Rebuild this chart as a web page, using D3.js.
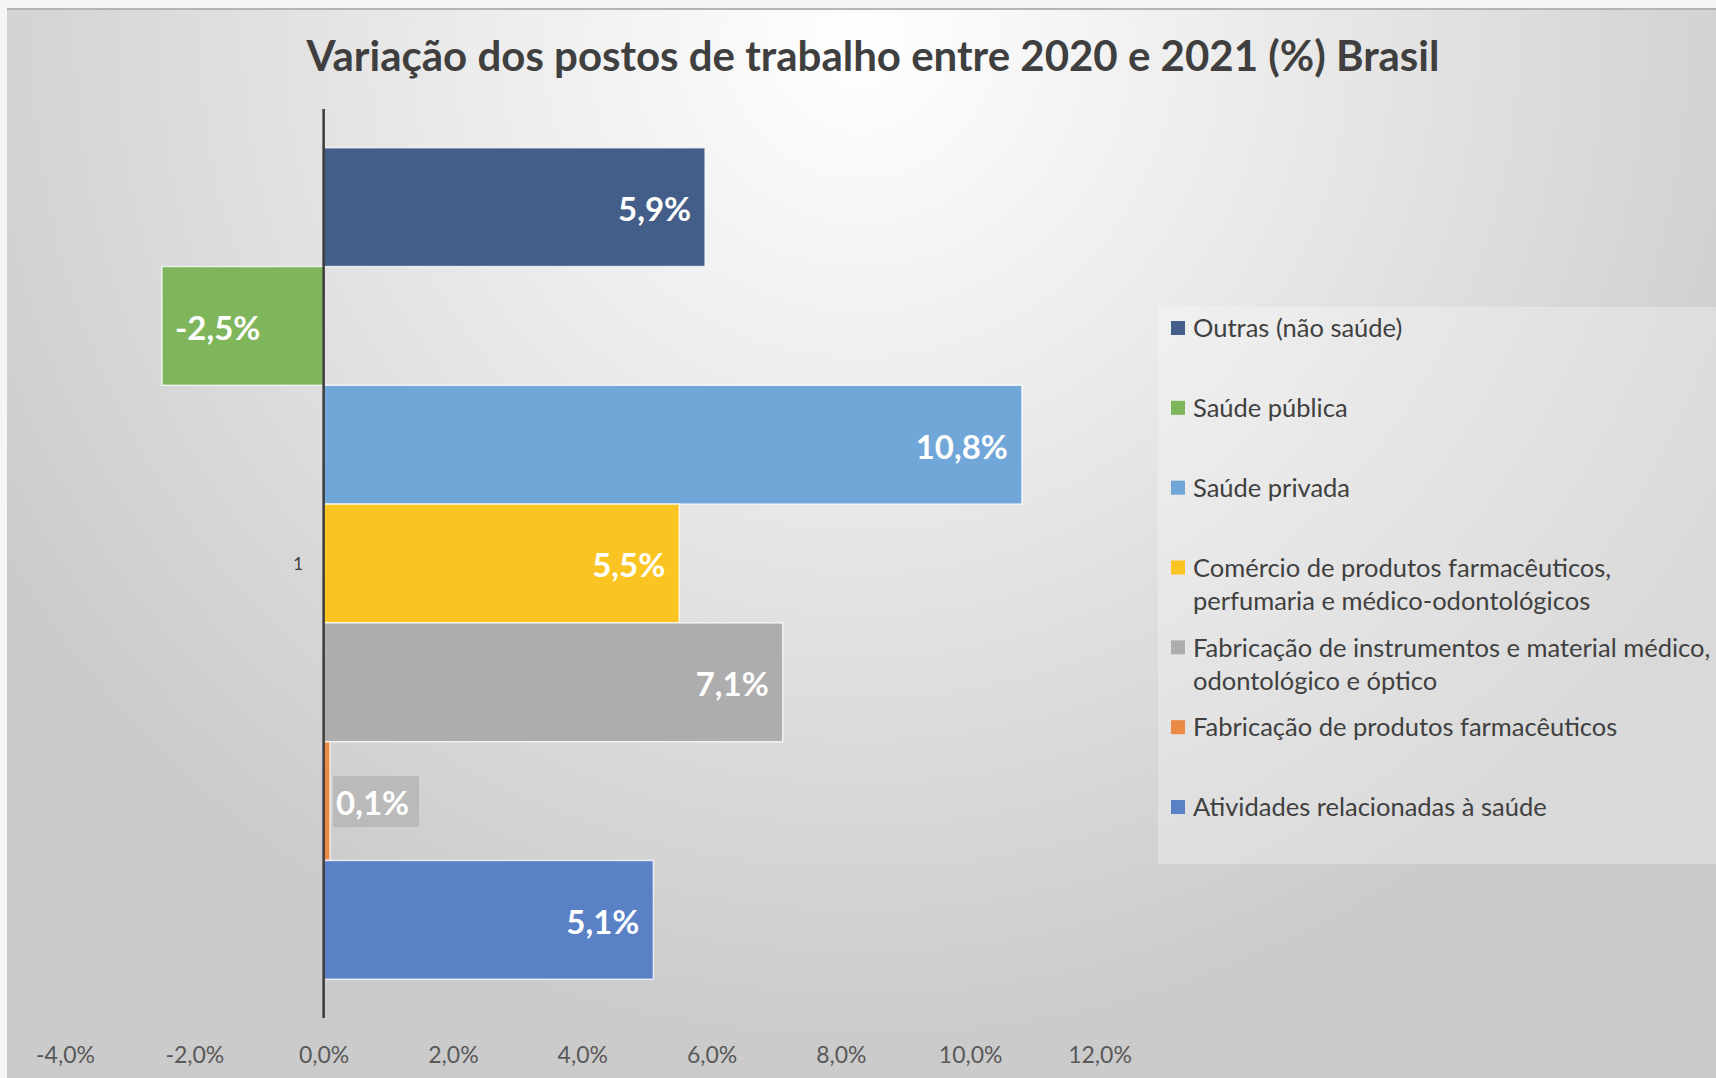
<!DOCTYPE html>
<html>
<head>
<meta charset="utf-8">
<script src="https://cdn.jsdelivr.net/npm/d3@7"></script>
<style>
  body { margin: 0; background: #f5f5f5; }
  svg { display: block; font-family: Lato, "Open Sans", sans-serif; }
</style>
</head>
<body>
<svg width="1716" height="1078"></svg>
<script>
const categories = ["1"];
const series = [
  "Outras (não saúde)",
  "Saúde pública",
  "Saúde privada",
  "Comércio de produtos farmacêuticos, perfumaria e médico-odontológicos",
  "Fabricação de instrumentos e material médico, odontológico e óptico",
  "Fabricação de produtos farmacêuticos",
  "Atividades relacionadas à saúde"
];
const values = [5.9, -2.5, 10.8, 5.5, 7.1, 0.1, 5.1];
const colors = ["#435e88", "#7fb65b", "#71a6d8", "#fac522", "#adadad", "#eb8a44", "#5a80c6"];
const xTicks = [-4, -2, 0, 2, 4, 6, 8, 10, 12];
const title = "Variação dos postos de trabalho entre 2020 e 2021 (%) Brasil";

const svg = d3.select("svg");
const width = +svg.attr("width");
const height = +svg.attr("height");

const fmt = v => d3.format(".1f")(v).replace("−", "-").replace(".", ",") + "%";

// background
const defs = svg.append("defs");
const grad = defs.append("radialGradient")
  .attr("id", "bg")
  .attr("gradientUnits", "userSpaceOnUse")
  .attr("cx", 860).attr("cy", 40).attr("r", 1000);
grad.append("stop").attr("offset", "0%").attr("stop-color", "#ffffff");
grad.append("stop").attr("offset", "40%").attr("stop-color", "#ebebeb");
grad.append("stop").attr("offset", "100%").attr("stop-color", "#cbcbcb");

svg.append("rect")
  .attr("x", 7).attr("y", 8)
  .attr("width", width - 7).attr("height", height - 8)
  .attr("fill", "url(#bg)");
svg.append("line")
  .attr("x1", 7).attr("x2", width)
  .attr("y1", 9).attr("y2", 9)
  .attr("stroke", "#b4b4b4").attr("stroke-width", 2);

svg.append("text")
  .attr("x", 873).attr("y", 71)
  .attr("text-anchor", "middle")
  .attr("font-size", 42)
  .attr("font-weight", 700)
  .attr("fill", "#3f3f3f")
  .text(title);

// scales
const x = d3.scaleLinear().domain([-4, 12]).range([65, 1099.5]);
const yCat = d3.scaleBand().domain(categories).range([109, 1018]);
const y = d3.scaleBand()
  .domain(series)
  .range([0, yCat.bandwidth()])
  .paddingInner(0)
  .paddingOuter(0.326);

const data = series.map((s, i) => ({ name: s, value: values[i], color: colors[i] }));

const plot = svg.append("g");

const catG = plot.selectAll("g.cat")
  .data(categories)
  .join("g")
  .attr("class", "cat")
  .attr("transform", d => `translate(0, ${yCat(d)})`);

catG.selectAll("rect.bar")
  .data(data)
  .join("rect")
  .attr("class", "bar")
  .attr("x", d => x(Math.min(0, d.value)))
  .attr("width", d => Math.abs(x(d.value) - x(0)))
  .attr("y", d => y(d.name))
  .attr("height", y.bandwidth())
  .attr("fill", d => d.color)
  .attr("stroke", "#ffffff")
  .attr("stroke-opacity", 0.75)
  .attr("stroke-width", 1.5);

// labels
const labelG = catG.selectAll("g.lbl")
  .data(data)
  .join("g")
  .attr("class", "lbl")
  .attr("transform", d => `translate(0, ${y(d.name) + y.bandwidth() / 2})`);

labelG.each(function(d) {
  const g = d3.select(this);
  const small = Math.abs(x(d.value) - x(0)) < 90;
  let tx, anchor;
  if (small) {
    g.append("rect")
      .attr("x", x(d.value) + 3)
      .attr("y", -25)
      .attr("width", 86)
      .attr("height", 51)
      .attr("fill", "#bababa");
    tx = x(d.value) + 6; anchor = "start";
  } else if (d.value < 0) {
    tx = x(d.value) + 13; anchor = "start";
  } else {
    tx = x(d.value) - 14; anchor = "end";
  }
  g.append("text")
    .attr("x", tx)
    .attr("y", 2)
    .attr("dy", "0.36em")
    .attr("text-anchor", anchor)
    .attr("font-size", 33)
    .attr("font-weight", 700)
    .attr("fill", "#ffffff")
    .text(fmt(d.value));
});

// category label
catG.append("text")
  .attr("x", 303)
  .attr("y", yCat.bandwidth() / 2)
  .attr("dy", "0.36em")
  .attr("text-anchor", "end")
  .attr("font-size", 17)
  .attr("fill", "#404040")
  .text(d => d);

// zero axis line
plot.append("line")
  .attr("x1", x(0)).attr("x2", x(0))
  .attr("y1", 109).attr("y2", 1018)
  .attr("stroke", "#3a3a3a")
  .attr("stroke-width", 2.5);

// x tick labels
const xAxis = d3.axisBottom(x)
  .tickValues(xTicks)
  .tickSize(0)
  .tickPadding(0)
  .tickFormat(d => fmt(d));

const axG = svg.append("g")
  .attr("transform", "translate(0, 1047)")
  .call(xAxis);
axG.select(".domain").remove();
axG.selectAll("text")
  .attr("font-family", "Lato, sans-serif")
  .attr("font-size", 23)
  .attr("fill", "#595959");

// legend
svg.append("rect")
  .attr("x", 1158).attr("y", 307)
  .attr("width", width - 1158).attr("height", 557)
  .attr("fill", "#ffffff")
  .attr("fill-opacity", 0.28);

const legendY = d3.scalePoint().domain(series).range([328, 807]);

const legendItems = svg.append("g")
  .selectAll("g")
  .data(data)
  .join("g")
  .attr("transform", d => `translate(1171, ${legendY(d.name)})`);

legendItems.append("rect")
  .attr("x", 0).attr("y", -7)
  .attr("width", 14).attr("height", 14)
  .attr("fill", d => d.color);

legendItems.append("text")
  .attr("x", 22)
  .attr("font-size", 25.5)
  .attr("fill", "#404040")
  .each(function(d) {
    const lines = d.name.split(/(?<=,) /);
    d3.select(this).selectAll("tspan")
      .data(lines)
      .join("tspan")
      .attr("x", 22)
      .attr("y", (l, i) => i * 33)
      .attr("dy", "0.36em")
      .text(l => l);
  });
</script>
</body>
</html>
